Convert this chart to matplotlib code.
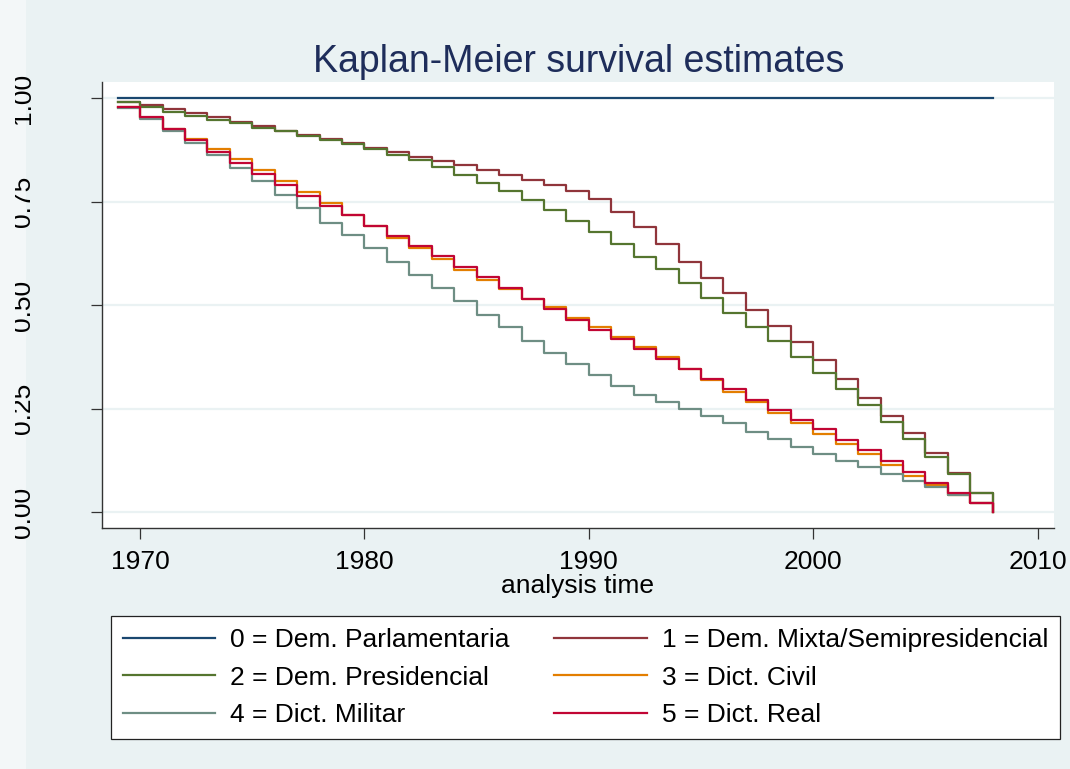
import matplotlib
matplotlib.use("Agg")
import matplotlib.pyplot as plt
from matplotlib.lines import Line2D
from matplotlib.patches import Rectangle

# ---- data (survival at each year, step at start of year) ----
years = list(range(1969, 2009))

s_parl = [1.0] * 40
s_mixta = [0.991, 0.984, 0.974, 0.964, 0.954, 0.942, 0.932, 0.921, 0.912, 0.901,
           0.892, 0.880, 0.869, 0.858, 0.849, 0.839, 0.827, 0.815, 0.803, 0.791,
           0.777, 0.756, 0.724, 0.689, 0.647, 0.604, 0.565, 0.529, 0.489, 0.450,
           0.412, 0.368, 0.322, 0.275, 0.233, 0.190, 0.142, 0.094, 0.047, 0.0]
s_pres = [0.991, 0.980, 0.968, 0.958, 0.948, 0.940, 0.929, 0.920, 0.910, 0.900,
          0.889, 0.878, 0.863, 0.850, 0.834, 0.815, 0.796, 0.776, 0.755, 0.730,
          0.703, 0.678, 0.647, 0.617, 0.587, 0.554, 0.517, 0.482, 0.447, 0.414,
          0.375, 0.335, 0.297, 0.258, 0.218, 0.176, 0.132, 0.092, 0.047, 0.0]
s_civil = [0.980, 0.953, 0.925, 0.901, 0.877, 0.853, 0.827, 0.801, 0.774, 0.747,
           0.718, 0.692, 0.662, 0.638, 0.611, 0.585, 0.561, 0.539, 0.515, 0.495,
           0.470, 0.448, 0.424, 0.398, 0.374, 0.345, 0.318, 0.291, 0.267, 0.240,
           0.216, 0.188, 0.164, 0.139, 0.113, 0.088, 0.065, 0.041, 0.022, 0.0]
s_militar = [0.976, 0.950, 0.922, 0.893, 0.863, 0.831, 0.799, 0.767, 0.734, 0.698,
             0.670, 0.638, 0.605, 0.573, 0.541, 0.509, 0.476, 0.446, 0.414, 0.384,
             0.357, 0.330, 0.305, 0.283, 0.265, 0.248, 0.233, 0.214, 0.194, 0.176,
             0.158, 0.140, 0.124, 0.108, 0.092, 0.076, 0.060, 0.041, 0.022, 0.0]
s_real = [0.980, 0.954, 0.925, 0.898, 0.871, 0.843, 0.817, 0.791, 0.764, 0.740,
          0.717, 0.692, 0.667, 0.644, 0.619, 0.593, 0.568, 0.541, 0.515, 0.490,
          0.464, 0.440, 0.418, 0.393, 0.369, 0.345, 0.321, 0.297, 0.271, 0.247,
          0.222, 0.200, 0.174, 0.150, 0.124, 0.096, 0.071, 0.045, 0.022, 0.0]

labels = ["0 = Dem. Parlamentaria", "1 = Dem. Mixta/Semipresidencial",
          "2 = Dem. Presidencial", "3 = Dict. Civil",
          "4 = Dict. Militar", "5 = Dict. Real"]
series = [s_parl, s_mixta, s_pres, s_civil, s_militar, s_real]
colors = ["#1a476f", "#90353b", "#55752f", "#e37e00", "#6e8e84", "#c10534"]

x_ticks = [1970, 1980, 1990, 2000, 2010]
y_ticks = [0.0, 0.25, 0.5, 0.75, 1.0]

# ---- estilo ----
BG = "#eaf2f3"
STRIP = "#f3f7f8"
plt.rcParams["font.family"] = ["Liberation Sans", "DejaVu Sans"]

W, H = 1070, 769
fig = plt.figure(figsize=(W / 100, H / 100), dpi=100, facecolor=BG)
# franja clara a la izquierda (como en la captura)
fig.patches.append(Rectangle((0, 0), 26 / W, 1, transform=fig.transFigure,
                             facecolor=STRIP, edgecolor="none", zorder=-5))

ax = fig.add_axes([101.7 / W, 1 - 528 / H, (1054 - 101.7) / W, (528 - 82) / H])
ax.set_facecolor("white")

for yv in y_ticks:
    ax.axhline(yv, color=BG, lw=1.6, zorder=0)

for vals, c in zip(series, colors):
    ax.step(years, vals, where="post", color=c, lw=1.6, zorder=2)

ax.set_xlim(1968.29, 2010.73)
ax.set_ylim(-0.0387, 1.0394)
ax.set_xticks(x_ticks)
ax.set_yticks(y_ticks)
ax.set_yticklabels(["0.00", "0.25", "0.50", "0.75", "1.00"])

for side in ("top", "right"):
    ax.spines[side].set_visible(False)
for side in ("left", "bottom"):
    ax.spines[side].set_color("#333333")
    ax.spines[side].set_linewidth(1.0)

ax.tick_params(axis="x", direction="out", length=8, width=0.9, color="#333333",
               labelsize=19, pad=8)
ax.tick_params(axis="y", direction="out", length=7.7, width=0.9, color="#333333",
               labelsize=19, pad=40)
for t in ax.get_yticklabels():
    t.set_rotation(90)
    t.set_va("center")

ax.set_xlabel("analysis time", fontsize=19, labelpad=-0.5)

fig.text(579 / W, 1 - 72 / H, "Kaplan-Meier survival estimates", ha="center",
         va="baseline", fontsize=27, color="#1e2d5a")

# recorte de las etiquetas del eje y en el borde izquierdo
fig.patches.append(Rectangle((0, 0), 15 / W, 1, transform=fig.transFigure,
                             facecolor=STRIP, edgecolor="none", zorder=10))

# ---- leyenda (filas: 0/1, 2/3, 4/5) ----
order = [0, 2, 4, 1, 3, 5]
handles = [Line2D([], [], color=colors[i], lw=1.6) for i in order]
leg = fig.legend(handles, [labels[i] for i in order], ncol=2, loc="upper left",
                 bbox_to_anchor=(110.7 / W, 1 - 739 / H, (1060 - 110.7) / W, 123 / H),
                 mode="expand", borderaxespad=0, fontsize=19, frameon=True,
                 fancybox=False, edgecolor="#222222", facecolor="white",
                 framealpha=1, handlelength=3.5, handletextpad=0.57,
                 labelspacing=0.52, borderpad=0.45)
leg.get_frame().set_linewidth(0.9)

fig.savefig("out.png", dpi=100, facecolor=BG)
